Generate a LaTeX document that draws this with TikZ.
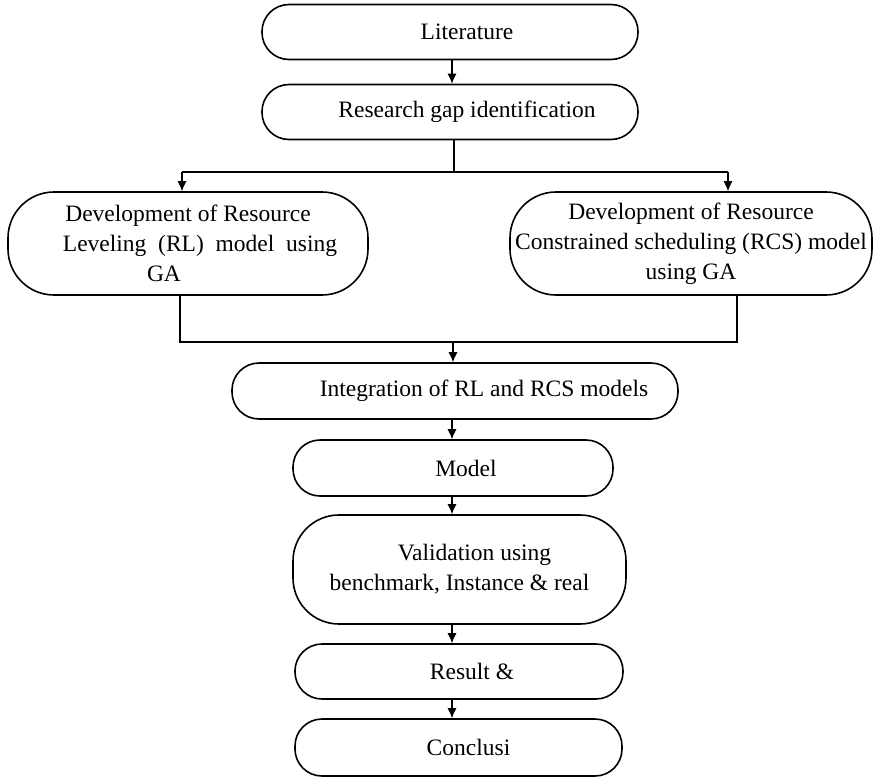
\documentclass[tikz,border=0pt]{standalone}
\usepackage{fontspec}
\setmainfont{Liberation Serif}
\usetikzlibrary{arrows.meta}
\tikzstyle{stepnode}=[draw, rectangle, rounded corners=27pt, line width=1.6pt, inner sep=0pt, font=\fontsize{23.5}{30}\selectfont, align=center]
\tikzstyle{bigstep}=[stepnode, rounded corners=46pt]
\tikzstyle{flow}=[line width=1.1pt, -{Latex[length=10pt,width=9pt]}]
\tikzstyle{joint}=[line width=1.1pt]
\tikzstyle{bar}=[line width=2.2pt]

\begin{document}
\begin{tikzpicture}[x=1pt,y=-1pt]
\useasboundingbox (0,0) rectangle (879,777);
% top part
\node[stepnode, minimum width=376pt, minimum height=55pt] (lit) at (450,32) {\hspace*{34pt}Literature};
\node[stepnode, minimum width=376pt, minimum height=55pt] (gap) at (450,112) {\hspace*{34pt}Research gap identification};
% the two models
\node[bigstep, minimum width=360pt, minimum height=103pt] (devRL) at (188,243.5)
  {Development of Resource\\ \hspace*{24pt}Leveling\ \ (RL)\ \ model\ \ using\\ GA\hspace*{48pt}};
\node[bigstep, minimum width=362pt, minimum height=103pt] (devRCS) at (691,243.5)
  {Development of Resource\\ Constrained scheduling (RCS) model\\ using GA};
% lower chain
\node[stepnode, minimum width=446pt, minimum height=56pt] (integ) at (455,391) {\hspace*{58pt}Integration of RL and RCS models};
\node[stepnode, minimum width=320pt, minimum height=56pt] (model) at (453,468) {\hspace*{26pt}Model};
\node[bigstep, minimum width=333pt, minimum height=109pt] (valid) at (459.5,569.5)
  {\hspace*{30pt}Validation using\\ benchmark, Instance \& real};
\node[stepnode, minimum width=328pt, minimum height=55pt] (result) at (459,671.5) {\hspace*{26pt}Result \&};
\node[stepnode, minimum width=327pt, minimum height=57pt] (concl) at (458.5,747.5) {\hspace*{20pt}Conclusi};

\coordinate (axis) at (452,0);
\coordinate (split) at (454,172);
\coordinate (splitL) at (182,172);
\coordinate (splitR) at (728,172);
\coordinate (mergeL) at (180,342);
\coordinate (mergeR) at (737,342);
\coordinate (merge) at (453,342);

\draw[flow] (lit.south -| axis) -- (gap.north -| axis);
\draw[joint] (gap.south -| split) -- (split);
\draw[bar] (splitL) -- (splitR);
\draw[flow] (splitL) -- (splitL |- devRL.north);
\draw[flow] (splitR) -- (splitR |- devRCS.north);
\draw[joint] (devRL.south -| mergeL) -- (mergeL) -- (mergeR) -- (devRCS.south -| mergeR);
\draw[flow] (merge) -- (merge |- integ.north);
\foreach \a/\b in {integ/model, model/valid, valid/result, result/concl}
  \draw[flow] (\a.south -| axis) -- (\b.north -| axis);
\end{tikzpicture}
\end{document}
